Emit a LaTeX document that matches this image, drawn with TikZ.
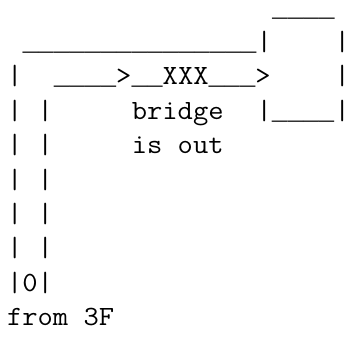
\documentclass[tikz,border=0pt]{standalone}
\usepackage{fontspec}
\usepackage{graphicx}
% unbroken underscore runs come from Liberation Mono
\newfontfamily\rulefont{Liberation Mono}
% character grid: column width and row pitch, in bp
\def\cw{15.6}
\def\rowh{34.4}
\def\xo{7}
\def\yo{16}
\tikzset{
  glyphs/.style={anchor=base west, inner sep=0pt, outer sep=0pt, text=black,
    font=\fontsize{26bp}{26bp}\selectfont\ttfamily},
  bar/.style={glyphs, anchor=base}
}
% typewriter text widened to a 0.6em pitch
\newcommand\tw[1]{\scalebox{1.1429}[1.07]{#1}}
% a run of underscores
\newcommand\us[1]{{\rulefont#1}}
% \gridtext{name}{column}{row}{text}
\newcommand\gridtext[4]{%
  \node[glyphs] (#1) at ({(\xo+\cw*#2)*1bp},{-(\yo+\rowh*(#3-1))*1bp}) {#4};}
% a single bar centred in its column
\newcommand\gridbar[3]{%
  \node[bar] (#1) at ({(\xo+\cw*(#2+0.5))*1bp},{-(\yo+\rowh*(#3-1))*1bp}) {\makebox[0pt]{\tw{|}}};}
\begin{document}
\begin{tikzpicture}
\useasboundingbox (0,0) rectangle (347bp,-338bp);
% roof of the right-hand box
\gridtext{roof}{17}{1}{\us{\_\_\_\_}}
% top line of the loop
\gridtext{top}{1}{2}{\us{\_\_\_\_\_\_\_\_\_\_\_\_\_\_\_}}
\gridbar{boxl}{16}{2}
\gridbar{boxr}{21}{2}
% the route across the bridge
\gridbar{outa}{0}{3}
\gridtext{route}{3}{3}{\us{\_\_\_\_}\tw{>}\us{\_\_}\tw{XXX}\us{\_\_\_}\tw{>}}
\gridbar{boxr3}{21}{3}
% row with the bridge label and box bottom
\gridtext{walls4}{0}{4}{\tw{| |}}
\gridtext{bridge}{8}{4}{\tw{bridge}}
\gridtext{boxbot}{16}{4}{\tw{|}\us{\_\_\_\_}}
\gridbar{boxr4}{21}{4}
\gridtext{walls5}{0}{5}{\tw{| |}}
\gridtext{isout}{8}{5}{\tw{is out}}
% the shaft
\gridtext{walls6}{0}{6}{\tw{| |}}
\gridtext{walls7}{0}{7}{\tw{| |}}
\gridtext{walls8}{0}{8}{\tw{| |}}
\gridtext{origin}{0}{9}{\tw{|0|}}
\gridtext{from}{0}{10}{\tw{from 3F}}
\end{tikzpicture}
\end{document}
